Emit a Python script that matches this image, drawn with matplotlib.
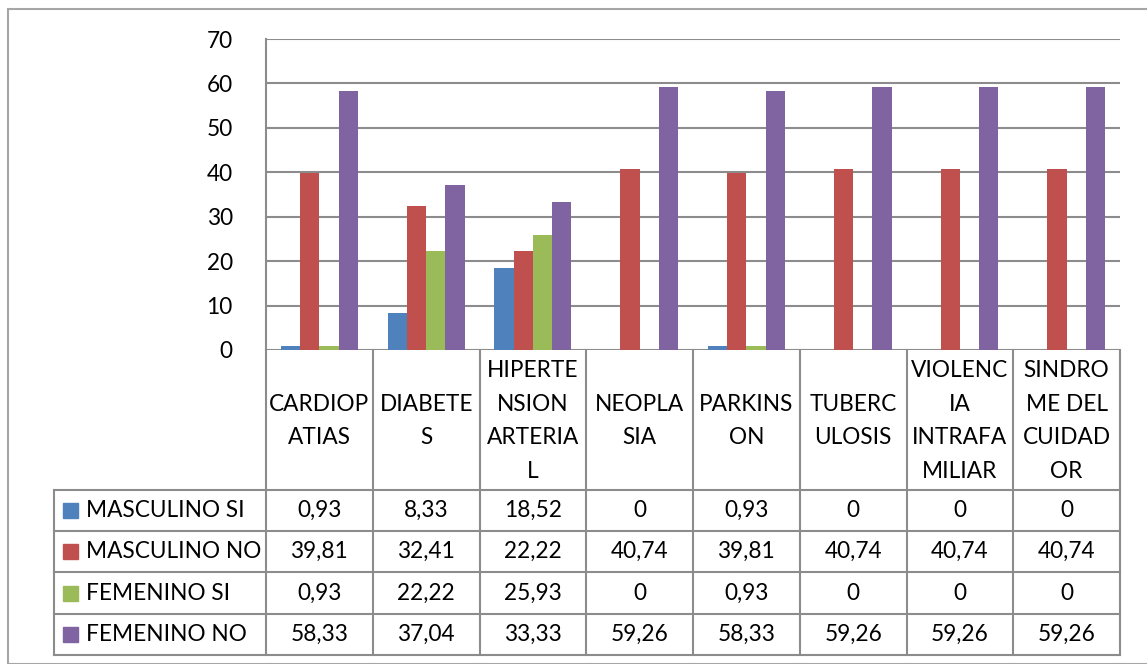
import matplotlib.pyplot as plt
import numpy as np

categories = ["CARDIOP\nATIAS", "DIABETE\nS", "HIPERTE\nNSION\nARTERIA\nL",
              "NEOPLA\nSIA", "PARKINS\nON", "TUBERC\nULOSIS",
              "VIOLENC\nIA\nINTRAFA\nMILIAR", "SINDRO\nME DEL\nCUIDAD\nOR"]
series_names = ["MASCULINO SI", "MASCULINO NO", "FEMENINO SI", "FEMENINO NO"]
masculino_si = [0.93, 8.33, 18.52, 0, 0.93, 0, 0, 0]
masculino_no = [39.81, 32.41, 22.22, 40.74, 39.81, 40.74, 40.74, 40.74]
femenino_si = [0.93, 22.22, 25.93, 0, 0.93, 0, 0, 0]
femenino_no = [58.33, 37.04, 33.33, 59.26, 58.33, 59.26, 59.26, 59.26]
yticks = [0, 10, 20, 30, 40, 50, 60, 70]

series = [masculino_si, masculino_no, femenino_si, femenino_no]
colors = ["#4F81BD", "#C0504D", "#9BBB59", "#8064A2"]
grid_c = "#8C8C8C"
fs = 16.3

plt.rcParams["font.family"] = ["Lato", "DejaVu Sans"]
W, H = 1147, 664
fig = plt.figure(figsize=(W / 100, H / 100), dpi=100)

# outer chart frame
frame = plt.Rectangle((8 / W, 0), (W + 10 - 8) / W, (H - 9) / H,
                      transform=fig.transFigure, fill=False,
                      edgecolor="#A6A6A6", lw=1.5)
fig.patches.append(frame)

# plot area in pixels
px0, px1, py0, py1 = 266, 1120, 350, 39
ax = fig.add_axes([px0 / W, 1 - py0 / H, (px1 - px0) / W, (py0 - py1) / H])
n = len(categories)
x = np.arange(n)
bw = 0.18
for i, (vals, c) in enumerate(zip(series, colors)):
    ax.bar(x + (i - 1.5) * bw, vals, bw, color=c, zorder=3)
ax.set_xlim(-0.5, n - 0.5)
ax.set_ylim(0, 70)
ax.set_yticks(yticks)
ax.set_yticklabels([str(t) for t in yticks], fontsize=fs)
ax.tick_params(axis="y", length=0, pad=24)
ax.set_xticks([])
for s in ["top", "right", "bottom"]:
    ax.spines[s].set_visible(False)
ax.spines["left"].set_color(grid_c)
ax.spines["left"].set_linewidth(1.5)
ax.yaxis.grid(True, color=grid_c, lw=1.5, zorder=0)
ax.set_axisbelow(True)
ax.patch.set_alpha(0)

# data table below the plot, drawn in pixel coordinates
tx0 = 54
row_y = [490, 531, 572, 614, 655]
cw = (px1 - px0) / n
tab = fig.add_axes([0, 0, 1, 1])
tab.set_xlim(0, W)
tab.set_ylim(H, 0)
tab.axis("off")
tab.patch.set_alpha(0)

lc = dict(color=grid_c, lw=1.5)
for j in range(n + 1):
    xc = px0 + j * cw
    tab.plot([xc, xc], [py0, row_y[-1]], **lc)
tab.plot([tx0, tx0], [row_y[0], row_y[-1]], **lc)
for yy in row_y:
    tab.plot([tx0, px1], [yy, yy], **lc)

for j, cat in enumerate(categories):
    tab.text(px0 + (j + 0.5) * cw, (py0 + row_y[0]) / 2 + 1, cat,
             ha="center", va="center", fontsize=fs, linespacing=1.75)

for r, (name, vals, c) in enumerate(zip(series_names, series, colors)):
    yc = (row_y[r] + row_y[r + 1]) / 2
    tab.add_patch(plt.Rectangle((63, yc - 7.5), 15, 15, color=c))
    tab.text(86, yc, name, ha="left", va="center", fontsize=fs)
    for j, v in enumerate(vals):
        label = f"{v:.2f}".replace(".", ",") if v else "0"
        tab.text(px0 + (j + 0.5) * cw, yc, label, ha="center", va="center",
                 fontsize=fs)

fig.savefig("out.png", dpi=100)
